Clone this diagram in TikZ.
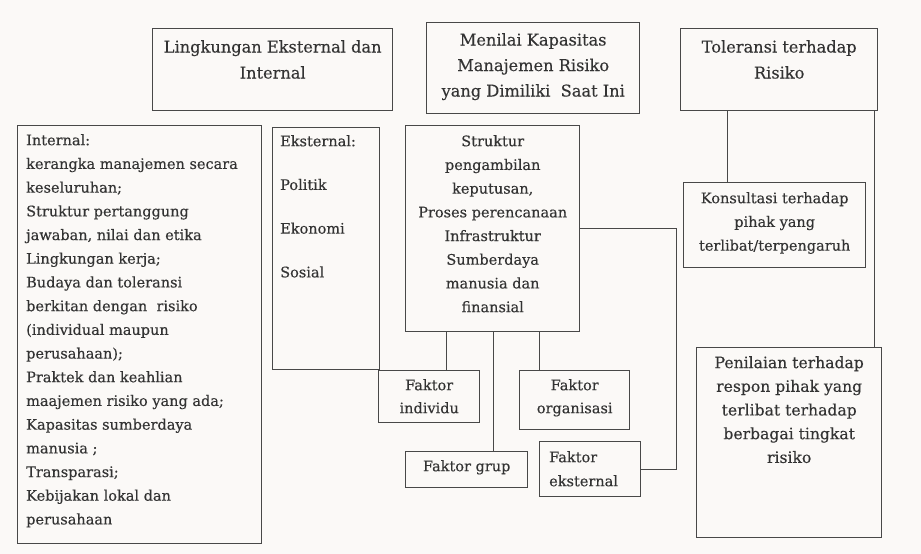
\documentclass[tikz,border=0pt]{standalone}
\usepackage{fontspec}
\setmainfont{DejaVu Serif}[FakeBold=0.3]
\usepackage{xcolor}
\usepackage{tikz}
\definecolor{bgpaper}{HTML}{FBF9F7}
\definecolor{framegray}{HTML}{484848}
\definecolor{inkgray}{HTML}{333333}
\tikzset{
  frame/.style={draw=framegray,line width=1.4pt,anchor=north west,inner sep=0pt},
  txt/.style={anchor=north,align=center,inner sep=0pt,text=inkgray},
  txtleft/.style={anchor=north west,align=left,inner sep=0pt,text=inkgray},
  head/.style={txt,font=\fontsize{16.2}{23.7}\selectfont},
  link/.style={draw=framegray,line width=1.4pt},
}

\begin{document}
\begin{tikzpicture}[x=1pt,y=-1pt,font=\fontsize{14.5}{23.7}\selectfont]
  \fill[bgpaper] (0,0) rectangle (921,554);
  \useasboundingbox (0,0) rectangle (921,554);
  % top row
  \node[frame,minimum width=240pt,minimum height=82pt] (ling) at (152,28) {};
  \node[head] (lingtxt) at ([yshift=-12pt]ling.north) {Lingkungan Eksternal dan\\[2.3pt]Internal};
  \node[frame,minimum width=213pt,minimum height=91pt] (nilai) at (426,22) {};
  \node[head] (nilaitxt) at ([yshift=-11pt]nilai.north) {Menilai Kapasitas\\[1.8pt]Manajemen Risiko\\[1.8pt]yang Dimiliki\ \ Saat Ini};
  \node[frame,minimum width=197pt,minimum height=82pt] (toler) at (680,28) {};
  \node[head] (tolertxt) at ([yshift=-12pt]toler.north) {Toleransi terhadap\\[2.3pt]Risiko};
  % lists
  \node[frame,minimum width=244pt,minimum height=418pt] (intern) at (17,125) {};
  \node[txtleft] (interntxt) at ([xshift=9pt,yshift=-9pt]intern.north west) {Internal:\\
    kerangka manajemen secara\\ keseluruhan;\\ Struktur pertanggung\\
    jawaban, nilai dan etika\\ Lingkungan kerja;\\ Budaya dan toleransi\\
    berkitan dengan\ \ risiko\\ (individual maupun\\ perusahaan);\\
    Praktek dan keahlian\\ maajemen risiko yang ada;\\ Kapasitas sumberdaya\\
    manusia ;\\ Transparasi;\\ Kebijakan lokal dan\\ perusahaan};
  \node[frame,minimum width=107pt,minimum height=242pt] (ekst) at (272,127) {};
  \node[txtleft] (eksttxt) at ([xshift=8pt,yshift=-8pt]ekst.north west) {Eksternal:\\[20pt]Politik\\[20pt]Ekonomi\\[20pt]Sosial};
  % middle
  \node[frame,minimum width=174pt,minimum height=206pt] (struk) at (405,125) {};
  \node[txt] (struktxt) at ([yshift=-10pt]struk.north) {Struktur\\ pengambilan\\ keputusan,\\
    Proses perencanaan\\ Infrastruktur\\ Sumberdaya\\ manusia dan\\ finansial};
  \node[frame,minimum width=101pt,minimum height=52pt] (indiv) at (378,370) {};
  \node[txt] (indivtxt) at ([yshift=-9pt]indiv.north) {Faktor\\[-0.7pt]individu};
  \node[frame,minimum width=110pt,minimum height=59pt] (organ) at (519,370) {};
  \node[txt] (organtxt) at ([yshift=-9pt]organ.north) {Faktor\\[-0.7pt]organisasi};
  \node[frame,minimum width=122pt,minimum height=36pt] (grup) at (405,451) {};
  \node[txt] (gruptxt) at ([yshift=-9pt]grup.north) {Faktor grup};
  \node[frame,minimum width=101pt,minimum height=55pt] (fekst) at (539,441) {};
  \node[txtleft] (feksttxt) at ([xshift=10pt,yshift=-10pt]fekst.north west) {Faktor\\[0.3pt]eksternal};
  % right
  \node[frame,minimum width=182pt,minimum height=85pt] (konsul) at (683,182) {};
  \node[txt] (konsultxt) at ([yshift=-10pt]konsul.north) {Konsultasi terhadap\\ pihak yang\\ terlibat/terpengaruh};
  \node[frame,minimum width=185pt,minimum height=190pt] (penil) at (696,347) {};
  \node[txt,font=\fontsize{15.6}{23.7}\selectfont] (peniltxt) at ([yshift=-9pt]penil.north) {Penilaian terhadap\\ respon pihak yang\\
    terlibat terhadap\\ berbagai tingkat\\ risiko};
  % connectors
  \foreach \dx/\n in {-46/indiv,1/grup,47/organ}
    \draw[link] ([xshift=\dx pt]struk.south) -- ([xshift=\dx pt]struk.south |- \n.north);
  \draw[link] (struk.east) -- ++(96,0) |- (fekst.east);
  \draw[link] ([xshift=-51.5pt]toler.south) -- ([xshift=-51.5pt]toler.south |- konsul.north);
  \draw[link] ([xshift=-4pt]toler.south east) -- ([xshift=-4pt]toler.south east |- penil.north);
\end{tikzpicture}
\end{document}
